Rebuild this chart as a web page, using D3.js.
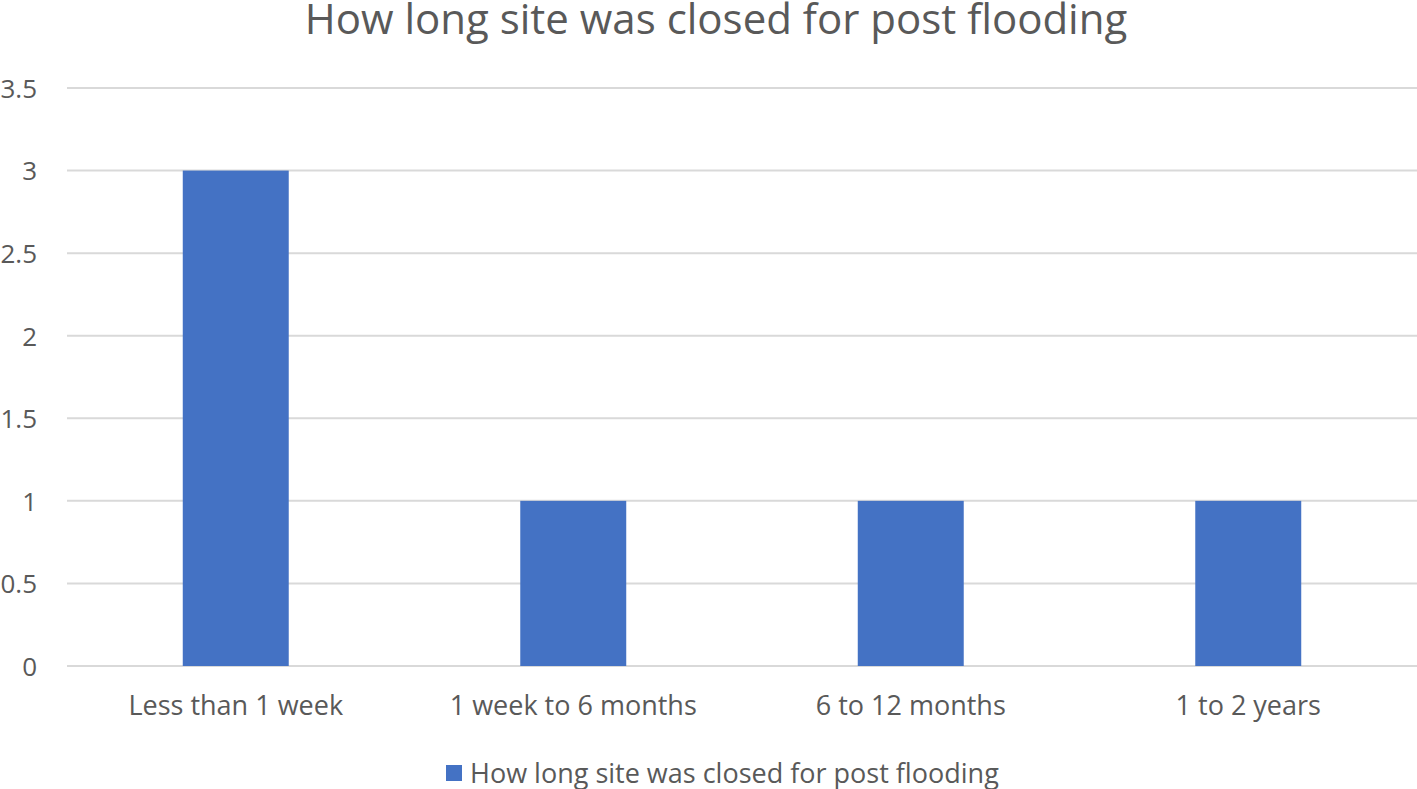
<!DOCTYPE html>
<html>
<head>
<meta charset="utf-8">
<script src="https://cdn.jsdelivr.net/npm/d3@7"></script>
<style>
  body { margin: 0; background: #ffffff; }
  svg text { font-family: "Open Sans", Lato, sans-serif; fill: #595959; }
</style>
</head>
<body>
<div id="chart_div"></div>
<script>
var chart_title = "How long site was closed for post flooding";
var series_name = "How long site was closed for post flooding";
var categories = ["Less than 1 week", "1 week to 6 months", "6 to 12 months", "1 to 2 years"];
var values = [3, 1, 1, 1];
var y_ticks = [0, 0.5, 1, 1.5, 2, 2.5, 3, 3.5];

var width = 1417;
var height = 789;
var plot_left = 67;
var plot_right = 1417;
var plot_top = 88;
var plot_bottom = 666;

var bar_colour = "#4472c4";
var grid_colour = "#d9d9d9";

var svg = d3.select("#chart_div")
    .append("svg")
    .attr("width", width)
    .attr("height", height);

var x = d3.scaleBand()
    .domain(categories)
    .range([plot_left, plot_right])
    .paddingInner(0.686)
    .paddingOuter(0.343);

var y = d3.scaleLinear()
    .domain([0, 3.5])
    .range([plot_bottom, plot_top]);

// gridlines
svg.append("g")
    .selectAll("line")
    .data(y_ticks)
    .enter()
    .append("line")
    .attr("x1", plot_left)
    .attr("x2", plot_right)
    .attr("y1", function(d) { return y(d); })
    .attr("y2", function(d) { return y(d); })
    .attr("stroke", grid_colour)
    .attr("stroke-width", 2);

// y axis labels
var y_axis = d3.axisLeft(y)
    .tickValues(y_ticks)
    .tickSize(0)
    .tickPadding(0)
    .tickFormat(function(d) { return String(d); });

var y_g = svg.append("g")
    .attr("transform", "translate(37,0)")
    .call(y_axis);
y_g.select(".domain").remove();
y_g.selectAll("text")
    .style("font-size", "26px")
    .attr("dy", "0.36em");

// bars
svg.append("g")
    .selectAll("rect")
    .data(values)
    .enter()
    .append("rect")
    .attr("x", function(d, i) { return x(categories[i]); })
    .attr("y", function(d) { return y(d); })
    .attr("width", x.bandwidth())
    .attr("height", function(d) { return y(0) - y(d); })
    .attr("fill", bar_colour);

// x axis labels
var x_axis = d3.axisBottom(x)
    .tickSize(0)
    .tickPadding(0);

var x_g = svg.append("g")
    .attr("transform", "translate(0,715)")
    .call(x_axis);
x_g.select(".domain").remove();
x_g.selectAll("text")
    .attr("dy", 0)
    .style("font-size", "27px");

// title
svg.append("text")
    .attr("x", 716)
    .attr("y", 34)
    .attr("text-anchor", "middle")
    .style("font-size", "42px")
    .text(chart_title);

// legend
var legend = svg.append("g");
legend.append("rect")
    .attr("x", 446)
    .attr("y", 765)
    .attr("width", 16)
    .attr("height", 16)
    .attr("fill", bar_colour);
legend.append("text")
    .attr("x", 470)
    .attr("y", 783)
    .style("font-size", "27px")
    .text(series_name);
</script>
</body>
</html>
